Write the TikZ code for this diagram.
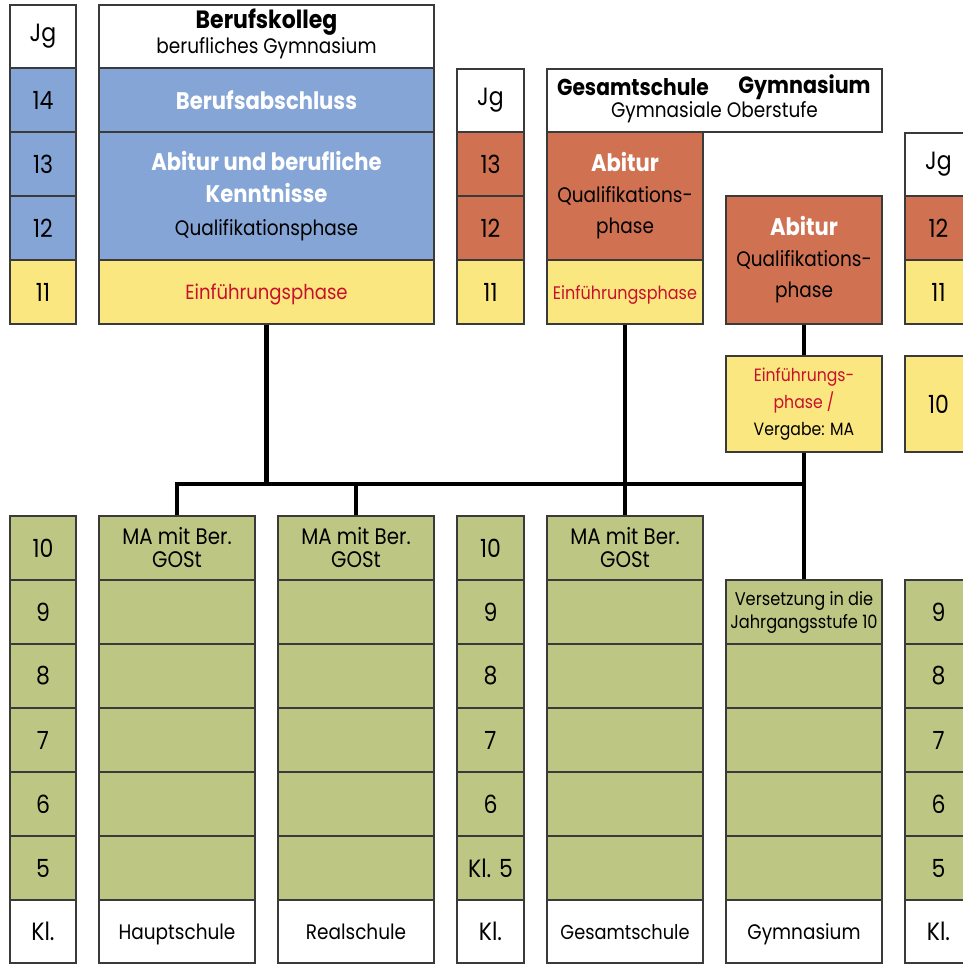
\documentclass[tikz,border=0pt]{standalone}
\usepackage{fontspec}
\setmainfont{Poppins}[FakeStretch=0.88]
\definecolor{cblue}{HTML}{84A5D5}
\definecolor{corange}{HTML}{D07152}
\definecolor{cyellow}{HTML}{FBE780}
\definecolor{cgreen}{HTML}{BDC682}
\definecolor{cred}{HTML}{C8102E}
\definecolor{cborder}{HTML}{3A3A3A}
\newcommand\fs[2]{\fontsize{#1}{#2}\selectfont}
\newcommand\cell[7]{\node[cellbox,#6,minimum width={(#4)-(#2)},minimum height={(#5)-(#3)}] (#1) at ({((#2)+(#4))/2},{((#3)+(#5))/2}) {#7};}
\tikzset{
  cellbox/.style={draw=cborder,line width=1.1pt,inner sep=0pt,align=center,font=\fs{25}{30}},
  wcell/.style={fill=white},
  bcell/.style={fill=cblue},
  ocell/.style={fill=corange},
  ycell/.style={fill=cyellow},
  gcell/.style={fill=cgreen},
  lbl/.style={font=\fs{21}{26},text height=18pt,text depth=3pt},
  txt/.style={inner sep=0pt,font=\fs{21}{26}},
  hdr/.style={inner sep=0pt,font=\bfseries\fs{24}{28}},
  conn/.style={line width=4.5pt,black,line join=miter}
}
\newcommand\bw[1]{{\bfseries\fontsize{24}{28}\selectfont\color{white}#1}}
\begin{document}
\begin{tikzpicture}[x=1pt,y=-1pt]
\clip (0,0) rectangle (963,964);
\fill[white] (0,0) rectangle (963,964);
% ---------- column A (left Jg) ----------
\cell{aJg}{10}{5}{76}{68}{wcell}{Jg}
\cell{a14}{10}{68}{76}{132}{bcell}{14}
\cell{a13}{10}{132}{76}{196}{bcell}{13}
\cell{a12}{10}{196}{76}{260}{bcell}{12}
\cell{a11}{10}{260}{76}{324}{ycell}{11}
\cell{a10}{10}{516}{76}{580}{gcell}{10}
\cell{a9}{10}{580}{76}{644}{gcell}{9}
\cell{a8}{10}{644}{76}{708}{gcell}{8}
\cell{a7}{10}{708}{76}{772}{gcell}{7}
\cell{a6}{10}{772}{76}{836}{gcell}{6}
\cell{a5}{10}{836}{76}{900}{gcell}{5}
\cell{aKl}{10}{900}{76}{963}{wcell}{Kl.}
% ---------- column B (Berufskolleg) ----------
\cell{bkH}{99}{5}{434}{68}{wcell}{}
\node[hdr,font=\bfseries\fs{25}{28}] (bkT) at (266.5,22) {Berufskolleg};
\node[txt] (bkS) at (266.5,48) {berufliches Gymnasium};
\cell{bk14}{99}{68}{434}{132}{bcell}{\bw{Berufsabschluss}}
\cell{bkQ}{99}{132}{434}{260}{bcell,font=\fs{21}{32.5}}{\bw{Abitur und berufliche}\\\bw{Kenntnisse}\\Qualifikationsphase}
\cell{bk11}{99}{260}{434}{324}{ycell,lbl,font=\fs{20.5}{26},text=cred}{Einführungsphase}
% ---------- column C (middle Jg) ----------
\cell{cJg}{457}{69}{524}{132}{wcell}{Jg}
\cell{c13}{457}{132}{524}{196}{ocell}{13}
\cell{c12}{457}{196}{524}{260}{ocell}{12}
\cell{c11}{457}{260}{524}{324}{ycell}{11}
\cell{c10}{457}{516}{524}{580}{gcell}{10}
\cell{c9}{457}{580}{524}{644}{gcell}{9}
\cell{c8}{457}{644}{524}{708}{gcell}{8}
\cell{c7}{457}{708}{524}{772}{gcell}{7}
\cell{c6}{457}{772}{524}{836}{gcell}{6}
\cell{c5}{457}{836}{524}{900}{gcell}{Kl. 5}
\cell{cKl}{457}{900}{524}{963}{wcell}{Kl.}
% ---------- header Gesamtschule / Gymnasium ----------
\cell{gH}{547}{69}{882}{132}{wcell}{}
\node[hdr,font=\bfseries\fs{23}{28}] (gHa) at (633,87) {Gesamtschule};
\node[hdr,font=\bfseries\fs{23.5}{28}] (gHb) at (804.5,87) {Gymnasium};
\node[txt] (gHc) at (714.5,112) {Gymnasiale Oberstufe};
% ---------- column D (Gesamtschule) ----------
\cell{dQ}{547}{132}{703}{260}{ocell,font=\fs{21}{31}}{\bw{Abitur}\\Qualifikations-\\phase}
\cell{d11}{547}{260}{703}{324}{ycell,lbl,font=\fs{18.2}{24},text=cred}{Einführungsphase}
% ---------- column E (Gymnasium) ----------
\cell{eQ}{726}{196}{882}{324}{ocell,font=\fs{21}{31}}{\bw{Abitur}\\Qualifikations-\\phase}
\cell{eE}{726}{356}{882}{452}{ycell,font=\fs{17.8}{27}}{{\color{cred}Einführungs-}\\{\color{cred}phase /}\\Vergabe: MA}
% ---------- column F (right Jg) ----------
\cell{fJg}{905}{133}{972}{196}{wcell}{Jg}
\cell{f12}{905}{196}{972}{260}{ocell}{12}
\cell{f11}{905}{260}{972}{324}{ycell}{11}
\cell{f10}{905}{356}{972}{452}{ycell}{10}
\cell{f9}{905}{580}{972}{644}{gcell}{9}
\cell{f8}{905}{644}{972}{708}{gcell}{8}
\cell{f7}{905}{708}{972}{772}{gcell}{7}
\cell{f6}{905}{772}{972}{836}{gcell}{6}
\cell{f5}{905}{836}{972}{900}{gcell}{5}
\cell{fKl}{905}{900}{972}{963}{wcell}{Kl.}
% ---------- lower school columns ----------
\cell{hs10}{99}{516}{255}{580}{gcell,font=\fs{22.5}{23}}{MA mit Ber.\\GOSt}
\cell{rs10}{278}{516}{434}{580}{gcell,font=\fs{22.5}{23}}{MA mit Ber.\\GOSt}
\cell{gs10}{547}{516}{703}{580}{gcell,font=\fs{22.5}{23}}{MA mit Ber.\\GOSt}
\cell{gy9}{726}{580}{882}{644}{gcell,font=\fs{18.4}{23}}{Versetzung in die\\Jahrgangsstufe 10}
\foreach \col/\xa/\xb in {hs/99/255,rs/278/434,gs/547/703}{
  \cell{\col9}{\xa}{580}{\xb}{644}{gcell}{}
}
\foreach \col/\xa/\xb in {hs/99/255,rs/278/434,gs/547/703,gy/726/882}{
  \foreach \r/\ya in {8/644,7/708,6/772,5/836}{
    \cell{\col\r}{\xa}{\ya}{\xb}{\ya+64}{gcell}{}
  }
}
\cell{hsKl}{99}{900}{255}{963}{wcell,lbl}{Hauptschule}
\cell{rsKl}{278}{900}{434}{963}{wcell,lbl}{Realschule}
\cell{gsKl}{547}{900}{703}{963}{wcell,lbl,font=\fs{20.2}{26}}{Gesamtschule}
\cell{gyKl}{726}{900}{882}{963}{wcell,lbl}{Gymnasium}
% ---------- connectors ----------
\coordinate (bar) at (804,484);
\draw[conn] (hs10.north) |- (bar);
\draw[conn] (rs10.north) -- (rs10.north |- bar);
\draw[conn] (bk11.south) -- (bk11.south |- bar);
\draw[conn] (d11.south) -- (gs10.north);
\draw[conn] (eQ.south) -- (eE.north);
\draw[conn] (eE.south) -- (gy9.north);
\end{tikzpicture}
\end{document}
